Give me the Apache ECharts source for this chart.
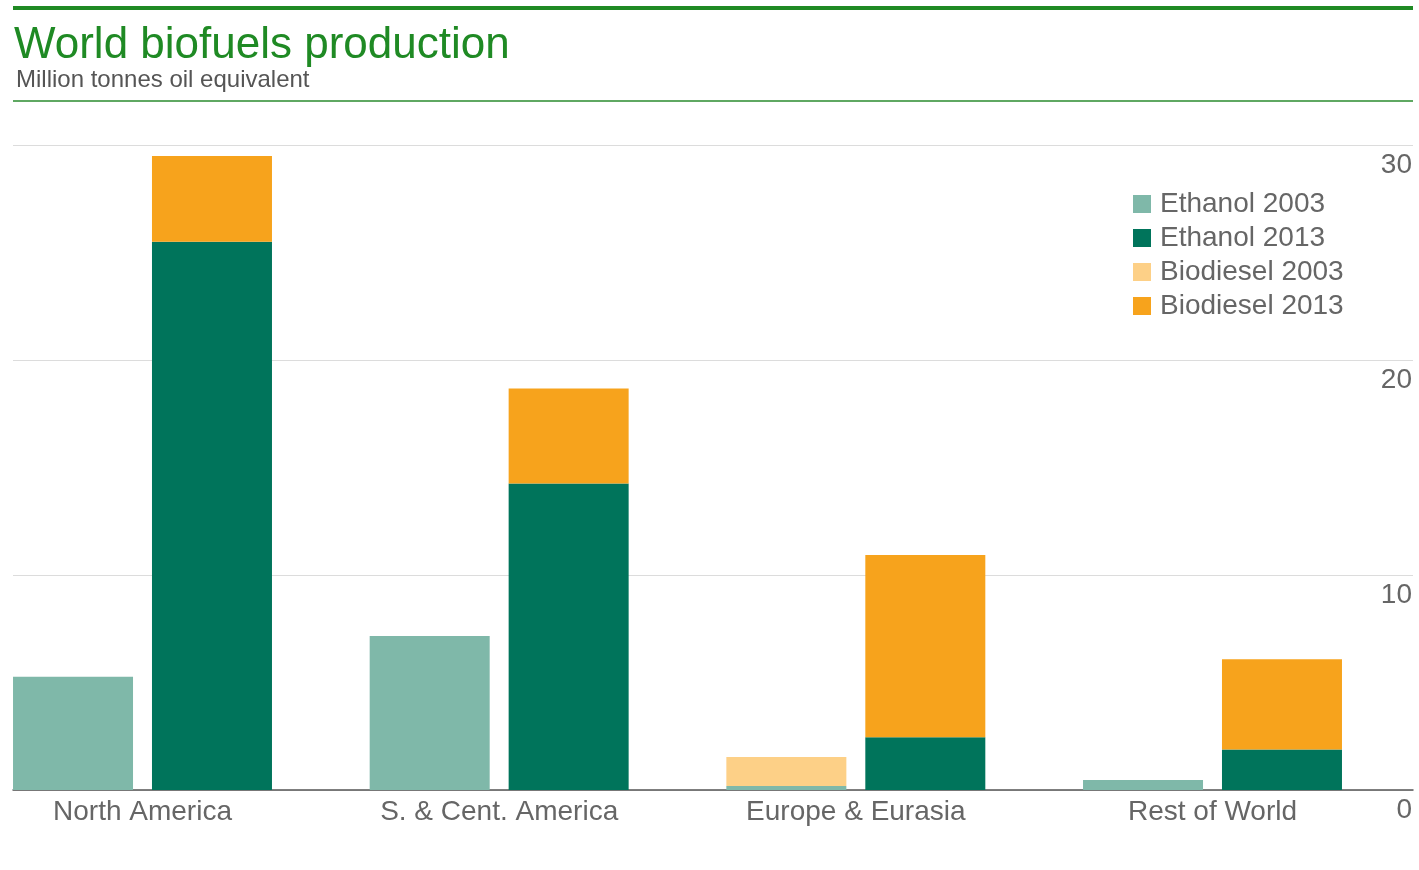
<!DOCTYPE html>
<html>
<head>
<meta charset="utf-8">
<title>World biofuels production</title>
<script src="https://cdn.jsdelivr.net/npm/echarts@6/dist/echarts.min.js"></script>
<style>
  html, body { margin: 0; padding: 0; background: #ffffff; }
  #chart { width: 1419px; height: 870px; }
</style>
</head>
<body>
<div id="chart"></div>
<script>
// Regions on the horizontal axis
const regions = ['North America', 'S. & Cent. America', 'Europe & Eurasia', 'Rest of World'];

// Production, million tonnes oil equivalent
const ethanol2003   = [5.27, 7.16, 0.19, 0.47];
const biodiesel2003 = [0, 0, 1.34, 0];
const ethanol2013   = [25.5, 14.26, 2.45, 1.88];
const biodiesel2013 = [3.99, 4.42, 8.48, 4.2];

// Value axis ticks
const yTicks = [0, 10, 20, 30];

const colors = {
  ethanol2003: '#7fb8a9',
  ethanol2013: '#00745b',
  biodiesel2003: '#fdd087',
  biodiesel2013: '#f7a31c'
};

const FONT = '"Liberation Sans", Arial, sans-serif';
const labelColor = '#666666';

const chart = echarts.init(document.getElementById('chart'), null, { renderer: 'canvas' });

const yMin = yTicks[0];
const yMax = yTicks[yTicks.length - 1];
const yStep = yTicks[1] - yTicks[0];

// Each region gets a pair of 120px bars (2003, 2013) centred on its category point.
const barOpts = { type: 'bar', xAxisIndex: 0, yAxisIndex: 0, barWidth: 120, barGap: '15.8%', clip: false };

chart.setOption({
  animation: false,
  backgroundColor: '#ffffff',
  title: [
    {
      text: 'World biofuels production',
      left: 9, top: 19,
      textStyle: { fontFamily: FONT, fontSize: 44, fontWeight: 'normal', color: '#1f8a24' }
    },
    {
      text: 'Million tonnes oil equivalent',
      left: 11, top: 63,
      textStyle: { fontFamily: FONT, fontSize: 24, fontWeight: 'normal', color: '#555555' }
    }
  ],
  graphic: [
    { type: 'rect', shape: { x: 13, y: 6, width: 1400, height: 4 }, style: { fill: '#1f8a24' }, silent: true },
    { type: 'rect', shape: { x: 13, y: 100, width: 1400, height: 2 }, style: { fill: '#5fa862' }, silent: true }
  ],
  legend: {
    orient: 'vertical',
    left: 1133, top: 190, padding: 0,
    itemWidth: 18, itemHeight: 18, itemGap: 6,
    icon: 'rect',
    data: ['Ethanol 2003', 'Ethanol 2013', 'Biodiesel 2003', 'Biodiesel 2013'],
    textStyle: { fontFamily: FONT, fontSize: 28, lineHeight: 26, color: labelColor, padding: [0, 0, 0, 4] }
  },
  grid: [
    // category points: first pair centre to last pair centre
    { left: 142.5, right: 1419 - 1212.5, top: 145, bottom: 80 },
    // gridlines, baseline and value labels
    { left: 13, right: 6, top: 145, bottom: 80 }
  ],
  xAxis: [
    {
      type: 'category', gridIndex: 0, data: regions, boundaryGap: false,
      axisLine: { show: false }, axisTick: { show: false }, splitLine: { show: false },
      axisLabel: { fontFamily: FONT, fontSize: 28, color: labelColor, margin: 8, interval: 0 }
    },
    {
      type: 'value', gridIndex: 1, min: 0, max: 1,
      axisLine: { show: true, onZero: false, lineStyle: { color: '#555555', width: 1.5 } },
      axisTick: { show: false }, axisLabel: { show: false }, splitLine: { show: false }
    }
  ],
  yAxis: [
    {
      type: 'value', gridIndex: 0, min: yMin, max: yMax, interval: yStep,
      axisLine: { show: false }, axisTick: { show: false },
      axisLabel: { show: false }, splitLine: { show: false }
    },
    {
      type: 'value', gridIndex: 1, position: 'right', min: yMin, max: yMax, interval: yStep,
      axisLine: { show: false }, axisTick: { show: false },
      axisLabel: {
        inside: true, margin: 1, verticalAlign: 'top', padding: [6, 0, 0, 0],
        fontFamily: FONT, fontSize: 28, color: labelColor
      },
      splitLine: { show: true, lineStyle: { color: '#dcdcdc', width: 1 } }
    }
  ],
  series: [
    Object.assign({ name: 'Ethanol 2003', stack: 'y2003', data: ethanol2003, itemStyle: { color: colors.ethanol2003 } }, barOpts),
    Object.assign({ name: 'Biodiesel 2003', stack: 'y2003', data: biodiesel2003, itemStyle: { color: colors.biodiesel2003 } }, barOpts),
    Object.assign({ name: 'Ethanol 2013', stack: 'y2013', data: ethanol2013, itemStyle: { color: colors.ethanol2013 } }, barOpts),
    Object.assign({ name: 'Biodiesel 2013', stack: 'y2013', data: biodiesel2013, itemStyle: { color: colors.biodiesel2013 } }, barOpts)
  ]
});
</script>
</body>
</html>
